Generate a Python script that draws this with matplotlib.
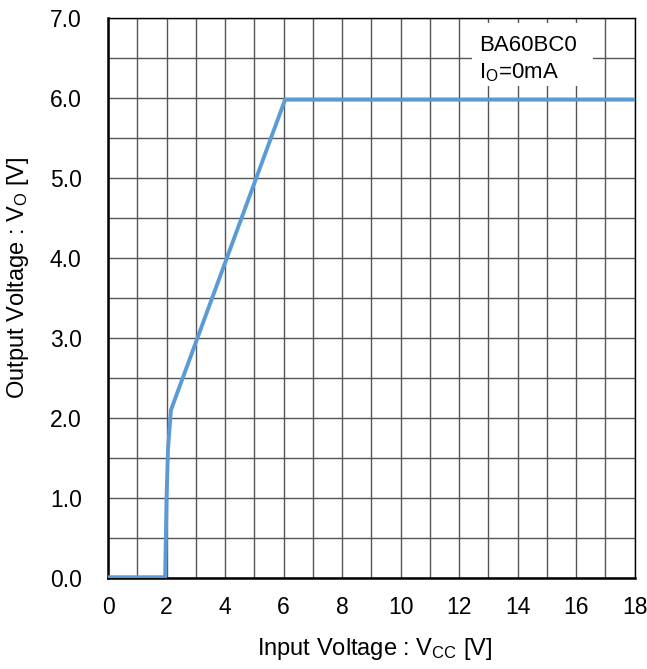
import numpy as np
import matplotlib.pyplot as plt
from matplotlib.patches import Rectangle

plt.rcParams['font.family'] = ['Liberation Sans', 'DejaVu Sans']
plt.rcParams['mathtext.fontset'] = 'custom'
plt.rcParams['mathtext.rm'] = 'Liberation Sans'
plt.rcParams['mathtext.default'] = 'regular'

# input voltage vs output voltage
vcc = [0.0, 1.95, 2.0, 2.05, 2.15, 6.05, 18.0]
vo = [0.01, 0.01, 1.0, 1.62, 2.1, 5.98, 5.98]

xticks = np.arange(0, 19, 2)
yticks = np.arange(0, 7.1, 1.0)

fig = plt.figure(figsize=(6.47, 6.69), dpi=100)
ax = fig.add_axes([0.167, 0.136, 0.814, 0.837])

ax.set_xlim(0, 18)
ax.set_ylim(0, 7)
ax.set_xticks(xticks)
ax.set_xticks(np.arange(0, 19, 1), minor=True)
ax.set_yticks(yticks)
ax.set_yticks(np.arange(0, 7.1, 0.5), minor=True)
ax.set_yticklabels([f"{v:.1f}" for v in yticks])
ax.grid(True, which='both', color='#555555', lw=1.0)
ax.tick_params(which='both', length=0, labelsize=16.5)
ax.tick_params(axis='y', pad=19)
ax.tick_params(axis='x', pad=13)
ax.set_axisbelow(True)

ax.plot(vcc, vo, color='#5B9BD5', lw=2.8, solid_joinstyle='miter', zorder=3)

for s in ['top', 'right']:
    ax.spines[s].set_linewidth(1.0)
for s in ['left', 'bottom']:
    ax.spines[s].set_linewidth(1.8)

# white label box covering the grid
ax.add_patch(Rectangle((12.43, 6.15), 4.13, 0.79, facecolor='white',
                       edgecolor='none', zorder=2))
ax.text(12.67, 6.59, "BA60BC0", fontsize=16, va='baseline', ha='left', zorder=4)
ax.text(12.67, 6.25, "I$_O$=0mA", fontsize=16, va='baseline', ha='left', zorder=4)

ax.set_xlabel("Input Voltage : V$_{CC}$ [V]", fontsize=17, va='center')
ax.set_ylabel("Output Voltage : V$_O$ [V]", fontsize=17, va='center')
ax.xaxis.set_label_coords(0.507, -0.127)
ax.yaxis.set_label_coords(-0.171, 0.536)

fig.savefig("out.png", dpi=100)
